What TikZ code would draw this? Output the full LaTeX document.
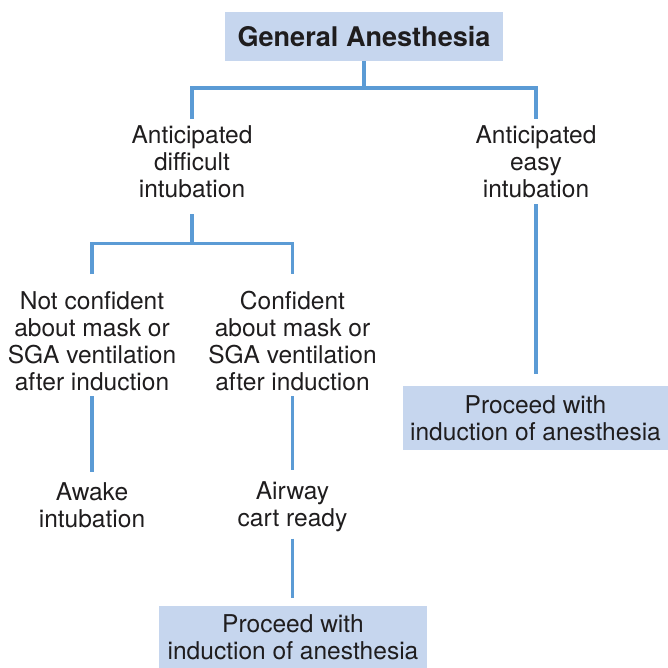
\documentclass[tikz,border=0pt]{standalone}
\usepackage{fontspec}
\setmainfont{TeX Gyre Heros}
\definecolor{boxfill}{HTML}{C6D6EE}
\definecolor{linec}{HTML}{5B9BD5}
\definecolor{txt}{HTML}{1F1D1E}
\begin{document}
\begin{tikzpicture}[x=0.75pt,y=-0.75pt,
  lab/.style={align=center,inner sep=0pt,text=txt,font=\fontsize{18.4}{20.25}\selectfont},
  boxn/.style={lab,fill=boxfill},
  conn/.style={draw=linec,line width=2.4pt}]
\useasboundingbox (0,0) rectangle (668,668);
% nodes
\node[boxn,minimum width=208.5pt,minimum height=36.75pt,font=\fontsize{20.3}{24}\selectfont\bfseries] (ga) at (364,36.5) {General Anesthesia};
\node[lab] (ad) at (192,162) {Anticipated\\difficult\\intubation};
\node[lab] (ae) at (536,162) {Anticipated\\easy\\intubation};
\node[lab] (nc) at (92,341.5) {Not confident\\about mask or\\SGA ventilation\\after induction};
\node[lab] (co) at (292.5,341.5) {Confident\\about mask or\\SGA ventilation\\after induction};
\node[lab] (aw) at (92,505.5) {Awake\\intubation};
\node[lab] (ac) at (292.5,506.5) {Airway\\cart ready};
\node[boxn,minimum width=198.75pt,minimum height=48pt] (rb) at (535.5,418) {Proceed with\\induction of anesthesia};
\node[boxn,minimum width=201pt,minimum height=46.5pt] (bb) at (293,637) {Proceed with\\induction of anesthesia};
% junctions
\coordinate (j1) at (364,88);
\coordinate (j2) at (192,243.5);
% connectors
\draw[conn] (ga.south) -- (j1);
\draw[conn,shorten <=4.9pt] (ad.north) |- (j1);
\draw[conn,shorten >=4.9pt] (j1) -| (ae.north);
\draw[conn,shorten <=12pt] (ad.south) -- (j2);
\draw[conn,shorten <=13pt] (nc.north) |- (j2);
\draw[conn,shorten >=13pt] (j2) -| (co.north);
\draw[conn,shorten <=4.5pt,shorten >=8.5pt] (ae.south) -- (ae.south |- rb.north);
\draw[conn,shorten <=3.5pt,shorten >=8pt] (nc.south) -- (aw.north);
\draw[conn,shorten <=3.5pt,shorten >=8pt] (co.south) -- (ac.north);
\draw[conn,shorten <=5pt,shorten >=6pt] (ac.south) -- (ac.south |- bb.north);
\end{tikzpicture}
\end{document}
